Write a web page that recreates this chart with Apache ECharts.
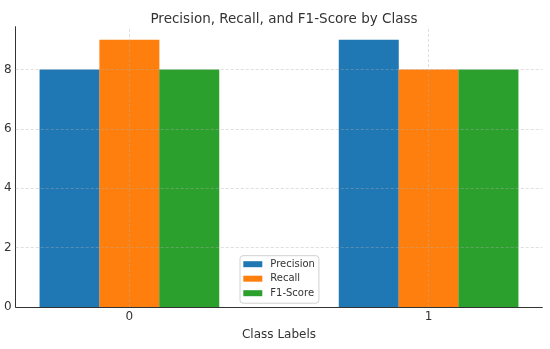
<!DOCTYPE html>
<html><head><meta charset="utf-8">
<script src="https://cdn.jsdelivr.net/npm/echarts@6/dist/echarts.min.js"></script>
<style>html,body{margin:0;padding:0;background:#fff}#c{width:550px;height:349px}</style>
</head><body><div id="c"></div>
<script>
const categories = ['0', '1'];
const precision = [8, 9];
const recall = [9, 8];
const f1Score = [8, 8];
const yTicks = [0, 2, 4, 6, 8];
const seriesNames = ['Precision', 'Recall', 'F1-Score'];

const colors = ['#1f77b4', '#ff7f0e', '#2ca02c'];
const offsets = [-0.2, 0, 0.2];
const font = 'DejaVu Sans';
const allSeries = [precision, recall, f1Score];
const textColor = '#333';

const chart = echarts.init(document.getElementById('c'), null, {renderer: 'canvas'});
const gridStyle = {color: '#b0b0b0', width: 0.8, type: [3, 2], opacity: 0.5};
const series = allSeries.map((vals, s) => ({
  name: seriesNames[s],
  type: 'bar',
  barWidth: 60,
  barGap: '-100%',
  itemStyle: {color: colors[s]},
  data: vals.map((v, i) => [i + offsets[s], v]),
  z: 2
}));
series.push({
  type: 'line', data: [], silent: true, z: 5,
  markLine: {
    silent: true, symbol: 'none', label: {show: false},
    lineStyle: gridStyle, animation: false,
    data: yTicks.filter(v => v > 0).map(v => ({yAxis: v}))
      .concat(categories.map((c, i) => ({xAxis: i})))
  }
});
chart.setOption({
  animation: false,
  textStyle: {fontFamily: font},
  title: {
    text: 'Precision, Recall, and F1-Score by Class',
    left: 279, top: 7, textAlign: 'center',
    textStyle: {fontFamily: font, fontSize: 13.5, fontWeight: 'normal', color: textColor}
  },
  legend: {
    orient: 'vertical', left: 240, top: 255.7,
    data: seriesNames,
    icon: 'rect', itemWidth: 19, itemHeight: 6, itemGap: 2.5,
    textStyle: {fontFamily: font, fontSize: 10, lineHeight: 12, color: textColor, padding: [0, 0, 0, 3]},
    backgroundColor: '#fff', borderColor: '#d0d0d0', borderWidth: 1, borderRadius: 3,
    padding: [2.5, 4, 4, 3.3]
  },
  grid: {left: 15.7, right: 7.7, top: 26.7, bottom: 42},
  xAxis: {
    type: 'value', min: -0.38, max: 1.38,
    name: 'Class Labels', nameLocation: 'middle', nameGap: 22,
    nameTextStyle: {fontFamily: font, fontSize: 12, color: textColor},
    axisLine: {show: true, onZero: false, lineStyle: {color: '#333', width: 1}},
    axisTick: {show: false},
    axisLabel: {customValues: [0, 1], formatter: v => categories[Math.round(v)] ?? '',
      fontFamily: font, fontSize: 12, color: textColor, margin: 4},
    splitLine: {show: false}
  },
  yAxis: {
    type: 'value', min: 0, max: 9.44,
    axisLine: {show: true, onZero: false, lineStyle: {color: '#333', width: 1}},
    axisTick: {show: false},
    axisLabel: {customValues: yTicks, fontFamily: font, fontSize: 12, color: textColor, margin: 4},
    splitLine: {show: false}
  },
  series: series
});
</script></body></html>
